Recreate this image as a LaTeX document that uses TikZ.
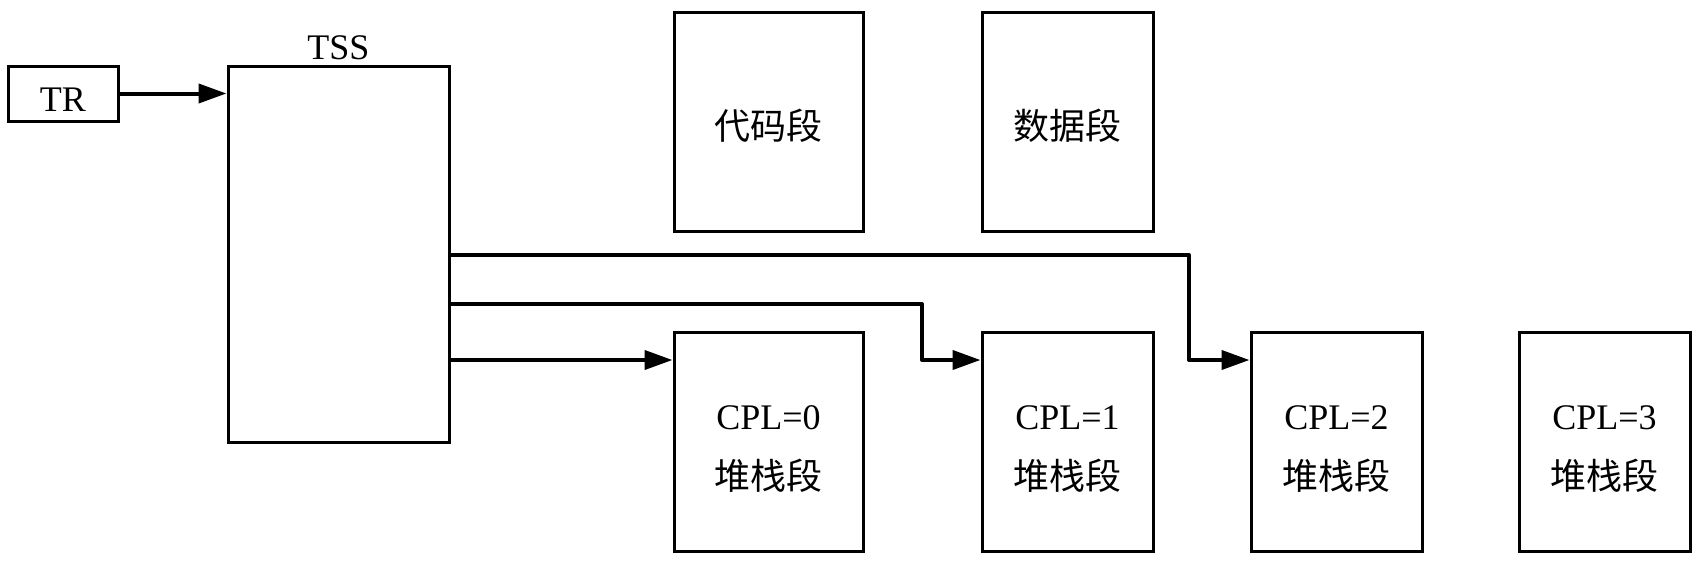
\documentclass[tikz,border=0pt]{standalone}
\usepackage{fontspec}
\setmainfont{Liberation Serif}
\newfontfamily\cjk{Noto Sans CJK SC}
\usepackage{tikz}
\usetikzlibrary{arrows.meta,positioning}
\newcommand{\lowtxt}[2][3.5pt]{\raisebox{-#1}[\height][\depth]{#2}}
\tikzset{
  seg/.style={draw, line width=1.5pt, fill=white, align=center, inner sep=0pt,
    font=\fontsize{18pt}{30pt}\selectfont},
  small/.style={seg, minimum width=85.5pt, minimum height=109.5pt},
  wide/.style={seg, minimum width=94.5pt, minimum height=109.5pt},
  arr/.style={line width=2pt, -{Triangle[length=14pt,width=9.5pt]}}
}

\begin{document}
\begin{tikzpicture}[x=0.5pt, y=-0.5pt]
  \useasboundingbox (0,0) rectangle (1698,562);
  % registers and TSS
  \node[seg, minimum width=55pt, minimum height=27.5pt] (tr) at (63,93.5) {\lowtxt[3.2pt]{TR}};
  \node[seg, minimum width=110.5pt, minimum height=188pt,
    label={[font=\fontsize{18pt}{22pt}\selectfont, inner sep=2pt]above:TSS}] (tss) at (338.5,254) {};
  % segments
  \node[wide] (code) at (768.5,121.5) {\lowtxt[2.2pt]{\cjk 代码段}};
  \node[small] (data) at (1067.5,121.5) {\lowtxt[2.2pt]{\cjk 数据段}};
  \node[wide] (cpl0) at (768.5,442) {\lowtxt{CPL=0}\\\lowtxt{\cjk 堆栈段}};
  \node[small] (cpl1) at (1067.5,442) {\lowtxt{CPL=1}\\\lowtxt{\cjk 堆栈段}};
  \node[small] (cpl2) at (1336.5,442) {\lowtxt{CPL=2}\\\lowtxt{\cjk 堆栈段}};
  \node[small] (cpl3) at (1604.5,442) {\lowtxt{CPL=3}\\\lowtxt{\cjk 堆栈段}};
  % bends of the stack pointers
  \coordinate (in) at (0,360);
  \coordinate (b1) at (922,304);
  \coordinate (b2) at (1189,255);
  % connectors
  \draw[arr] (tr.east) -- (tss.west |- tr.east);
  \draw[arr] (tss.east |- in) -- (cpl0.west |- in);
  \draw[arr, line join=round] (tss.east |- b1) -- (b1) |- (cpl1.west |- in);
  \draw[arr, line join=round] (tss.east |- b2) -- (b2) |- (cpl2.west |- in);
\end{tikzpicture}
\end{document}
